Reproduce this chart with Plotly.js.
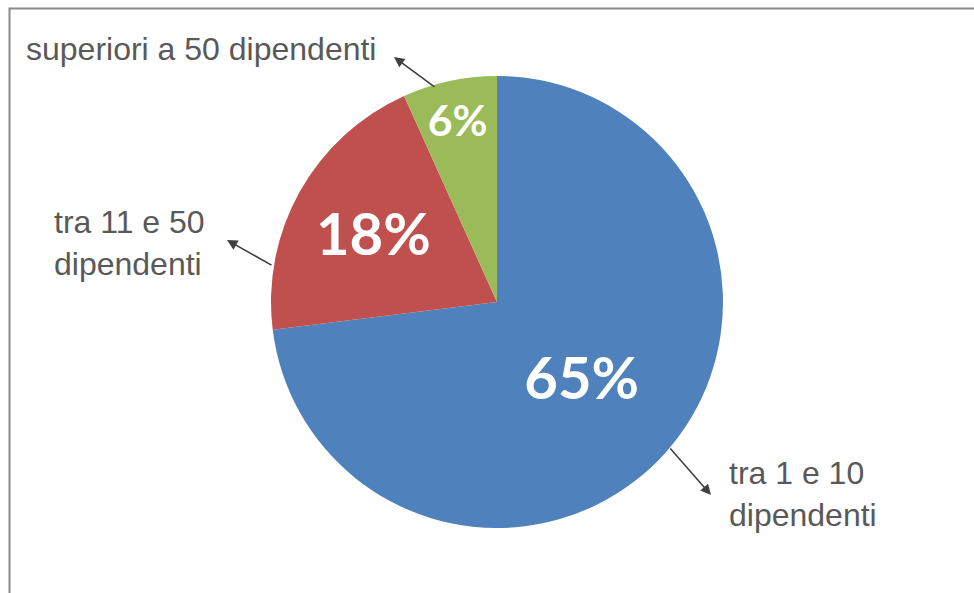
<!DOCTYPE html>
<html>
<head>
<meta charset="utf-8">
<script src="https://cdn.plot.ly/plotly-3.0.1.min.js"></script>
<style>html,body{margin:0;padding:0;background:#fff;}#chart{width:974px;height:593px;}</style>
</head>
<body>
<div id="chart"></div>
<script>
var categories = ["tra 1 e 10 dipendenti", "tra 11 e 50 dipendenti", "superiori a 50 dipendenti"];
var values = [65, 18, 6];
var valueLabels = ["65%", "18%", "6%"];
var sliceColors = ["#4F81BD", "#C0504D", "#9BBB59"];
var outsideLabels = ["tra 1 e 10<br>dipendenti", "tra 11 e 50<br>dipendenti", "superiori a 50 dipendenti"];

var W = 974, H = 593;
function px(x){ return x / W; }
function py(y){ return 1 - y / H; }

var trace = {
  type: "pie",
  labels: categories,
  values: values,
  text: valueLabels,
  textinfo: "text",
  hoverinfo: "label+text",
  sort: false,
  direction: "clockwise",
  rotation: 0,
  marker: { colors: sliceColors, line: { color: "#ffffff", width: 0 } },
  textposition: "inside",
  insidetextorientation: "horizontal",
  textfont: { family: "Lato, 'Open Sans', sans-serif", size: 58, color: "#ffffff", weight: "bold" },
  domain: { x: [px(497 - 226), px(497 + 226)], y: [py(302 + 226), py(302 - 226)] },
  showlegend: false
};

var labelFont = { family: "'Liberation Sans', Arial, sans-serif", size: 32, color: "#595959" };
var annotations = [
  { xref: "paper", yref: "paper", x: px(727), y: py(494), xanchor: "left", yanchor: "middle", align: "left",
    text: outsideLabels[0], showarrow: false, font: labelFont },
  { xref: "paper", yref: "paper", x: px(52), y: py(243), xanchor: "left", yanchor: "middle", align: "left",
    text: outsideLabels[1], showarrow: false, font: labelFont },
  { xref: "paper", yref: "paper", x: px(24), y: py(49), xanchor: "left", yanchor: "middle", align: "left",
    text: outsideLabels[2], showarrow: false, font: labelFont },
  // arrows (head at x,y; tail offset in pixels)
  { xref: "paper", yref: "paper", x: px(711), y: py(495), ax: 669 - 711, ay: 447 - 495, text: "",
    showarrow: true, arrowhead: 2, arrowsize: 1.3, arrowwidth: 1.6, arrowcolor: "#404040" },
  { xref: "paper", yref: "paper", x: px(227), y: py(240), ax: 273 - 227, ay: 266 - 240, text: "",
    showarrow: true, arrowhead: 2, arrowsize: 1.3, arrowwidth: 1.6, arrowcolor: "#404040" },
  { xref: "paper", yref: "paper", x: px(394), y: py(57), ax: 436 - 394, ay: 88 - 57, text: "",
    showarrow: true, arrowhead: 2, arrowsize: 1.3, arrowwidth: 1.6, arrowcolor: "#404040" }
];

var layout = {
  width: W, height: H,
  margin: { l: 0, r: 0, t: 0, b: 0 },
  paper_bgcolor: "#ffffff",
  showlegend: false,
  annotations: annotations,
  shapes: [
    { type: "rect", xref: "paper", yref: "paper", x0: px(9.5), x1: px(990), y0: py(610), y1: py(8.5),
      line: { color: "#8a8a8a", width: 2 }, fillcolor: "rgba(0,0,0,0)", layer: "below" }
  ]
};

Plotly.newPlot("chart", [trace], layout, { displayModeBar: false, staticPlot: true });
</script>
</body>
</html>
